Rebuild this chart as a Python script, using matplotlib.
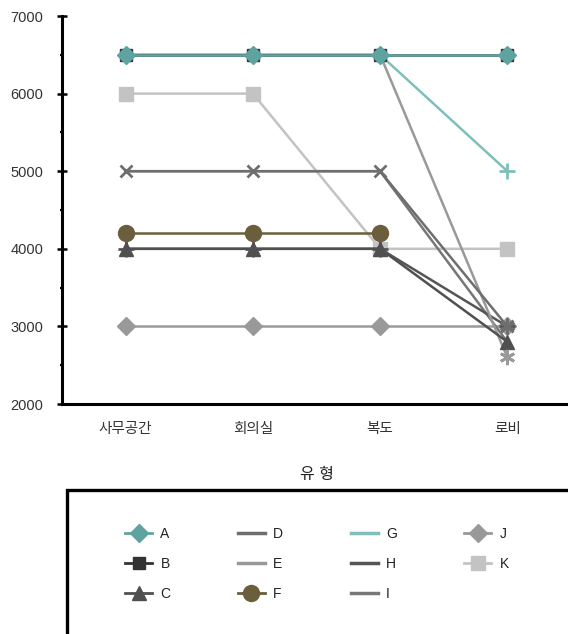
import matplotlib
matplotlib.use("Agg")
import matplotlib.pyplot as plt
from matplotlib.lines import Line2D
from matplotlib.patches import Rectangle

plt.rcParams['font.family'] = ['Liberation Sans', 'Noto Sans CJK KR', 'DejaVu Sans']

categories = ['사무공간', '회의실', '복도', '로비']
series_names = ['A', 'B', 'C', 'D', 'E', 'F', 'G', 'H', 'I', 'J', 'K']
A = [6500, 6500, 6500, 6500]
B = [6500, 6500, 6500, 6500]
C = [4000, 4000, 4000, 2800]
D = [5000, 5000, 5000, 3000]
E = [6500, 6500, 6500, 2600]
F = [4200, 4200, 4200, None]
G = [6500, 6500, 6500, 5000]
H = [4000, 4000, 4000, 3000]
I = [5000, 5000, 5000, 2800]
J = [3000, 3000, 3000, 3000]
K = [6000, 6000, 4000, 4000]
x_label = '유 형'
y_ticks = [2000, 3000, 4000, 5000, 6000, 7000]

data = dict(A=A, B=B, C=C, D=D, E=E, F=F, G=G, H=H, I=I, J=J, K=K)
styles = {
    'A': dict(color='#5fa3a0', marker='D', ms=9.5),
    'B': dict(color='#333333', marker='s', ms=8.5),
    'C': dict(color='#505050', marker='^', ms=10),
    'D': dict(color='#6e6e6e', marker='x', ms=9, mew=2),
    'E': dict(color='#999999', marker='*', ms=0, mew=2),
    'F': dict(color='#6b5e3c', marker='o', ms=11.5),
    'G': dict(color='#7fbfba', marker='+', ms=11, mew=2),
    'H': dict(color='#555555', marker='+', ms=11, mew=2),
    'I': dict(color='#777777', marker=None, ms=0),
    'J': dict(color='#999999', marker='D', ms=9.5),
    'K': dict(color='#c3c3c3', marker='s', ms=9.5),
}
legend_marker = {'A': True, 'B': True, 'C': True, 'D': False, 'E': False, 'F': True,
                 'G': False, 'H': False, 'I': False, 'J': True, 'K': True}

W, Hh = 568, 634
fig = plt.figure(figsize=(W/100, Hh/100), dpi=100)
ax = fig.add_axes([62/W, (Hh-404)/Hh, (571-62)/W, (404-16)/Hh])

xs = list(range(len(categories)))
draw_order = ['K', 'J', 'I', 'H', 'E', 'D', 'G', 'C', 'F', 'B', 'A']
for name in draw_order:
    st = styles[name]
    vals = data[name]
    px = [x for x, v in zip(xs, vals) if v is not None]
    py = [v for v in vals if v is not None]
    ax.plot(px, py, color=st['color'], lw=1.8, marker=st['marker'],
            markersize=st['ms'], markeredgewidth=st.get('mew', 1),
            markeredgecolor=st['color'], markerfacecolor=st['color'], clip_on=False)
# asterisk markers at lobby
ax.plot([3], [E[3]], marker=(6, 2, 0), ms=11, mew=2, color='#999999', linestyle='none')
ax.plot([3], [D[3]], marker=(6, 2, 0), ms=11, mew=2, color='#6e6e6e', linestyle='none')

ax.set_xlim(-0.5, 3.5)
ax.set_ylim(2000, 7000)
ax.set_xticks(xs)
ax.set_xticklabels(categories, fontsize=10.5, color='#333333')
ax.set_yticks(y_ticks)
ax.set_yticks([2500, 3500, 4500, 5500, 6500], minor=True)
ax.tick_params(axis='y', which='major', direction='inout', length=7, width=1.8,
               pad=10, labelsize=10.5, labelcolor='#333333')
ax.tick_params(axis='y', which='minor', direction='inout', length=3.5, width=1.6)
ax.tick_params(axis='x', length=0, pad=13)
for s in ['top', 'right']:
    ax.spines[s].set_visible(False)
ax.spines['left'].set_linewidth(2.2)
ax.spines['bottom'].set_linewidth(2.2)
ax.set_xlabel(x_label, fontsize=11.5, labelpad=22, color='#222222')

# legend
handles = []
for name in series_names:
    st = styles[name]
    if legend_marker[name]:
        h = Line2D([], [], color=st['color'], lw=2.0, marker=st['marker'],
                   markersize=st['ms'], markerfacecolor=st['color'],
                   markeredgecolor=st['color'])
    else:
        h = Line2D([], [], color=st['color'], lw=2.5)
    handles.append(h)

fig.patches.append(Rectangle((67/W, -0.01), 1.0, (Hh-490)/Hh + 0.01, transform=fig.transFigure,
                             fill=False, edgecolor='black', lw=2.4))
leg = fig.legend(handles, series_names, loc='upper left',
                 bbox_to_anchor=(125/W, (Hh-527)/Hh), ncol=4, frameon=False,
                 fontsize=10, handlelength=1.95, handletextpad=0.6,
                 columnspacing=4.85, labelspacing=1.15, borderpad=0,
                 borderaxespad=0)
for t in leg.get_texts():
    t.set_color('#222222')

fig.savefig('out.png', dpi=100)
